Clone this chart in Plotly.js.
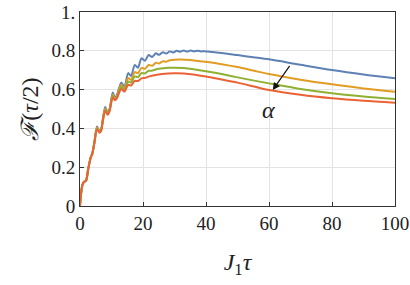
<!DOCTYPE html>
<html>
<head>
<meta charset="utf-8">
<script src="https://cdn.plot.ly/plotly-3.0.1.min.js"></script>
<style>html,body{margin:0;padding:0;background:#fff;}#chart{width:410px;height:285px;}</style>
</head>
<body>
<div id="chart"></div>
<script>
// J1*tau values and fidelity F(tau/2) (peaks / troughs of the ripples)
const blueX = [0,0.3,0.8,1.3,1.9,2.6,3.4,3.9,4.6,5.4,6.2,6.7,7.3,8.0,8.8,9.4,10.4,11.1,11.7,13.1,14.1,15.3,16.2,17.4,18.4,19.5,20.6,21.8,22.9,24.1,25.1,26.3,27.4,28.5,29.6,30.7,31.8,32.9,34.0,35.1,36.2,37.3,38.4,39.5,42,45,50,55,60,70,80,90,100];
const blueY = [0,0.06,0.11,0.125,0.13,0.19,0.25,0.27,0.33,0.41,0.385,0.395,0.45,0.51,0.48,0.50,0.585,0.557,0.572,0.636,0.615,0.685,0.67,0.727,0.713,0.761,0.749,0.778,0.768,0.787,0.779,0.793,0.786,0.797,0.791,0.80,0.795,0.801,0.796,0.801,0.797,0.80,0.797,0.798,0.794,0.789,0.778,0.767,0.756,0.728,0.701,0.678,0.658];

const orangeX = [0,0.3,0.8,1.3,1.9,2.6,3.4,3.9,4.6,5.4,6.2,6.7,7.3,8.0,8.8,9.4,10.4,11.1,11.7,13.1,14.1,15.3,16.2,17.4,18.4,19.5,20.6,21.8,22.9,24.1,25.1,26.3,27.4,28.5,30,32,35,38,40,45,50,55,60,70,80,90,100];
const orangeY = [0,0.06,0.11,0.125,0.13,0.19,0.25,0.27,0.33,0.405,0.383,0.393,0.45,0.503,0.476,0.497,0.575,0.551,0.565,0.625,0.605,0.66,0.65,0.69,0.684,0.712,0.707,0.727,0.723,0.738,0.735,0.746,0.744,0.751,0.754,0.755,0.752,0.746,0.743,0.731,0.716,0.698,0.68,0.651,0.627,0.606,0.589];

const greenX = [0,0.3,0.8,1.3,1.9,2.6,3.4,3.9,4.6,5.4,6.2,6.7,7.3,8.0,8.8,9.4,10.4,11.1,11.7,13.1,14.1,15.3,16.2,17.4,18.4,19.5,20.6,21.8,23,24.5,26,28,30,33,36,40,45,50,60,70,80,90,100];
const greenY = [0,0.06,0.11,0.125,0.13,0.19,0.25,0.27,0.33,0.40,0.38,0.39,0.447,0.497,0.473,0.494,0.568,0.548,0.56,0.615,0.598,0.642,0.636,0.668,0.664,0.685,0.683,0.697,0.698,0.706,0.709,0.712,0.713,0.711,0.705,0.695,0.68,0.663,0.632,0.603,0.581,0.565,0.552];

const redX = [0,0.3,0.8,1.3,1.9,2.6,3.4,3.9,4.6,5.4,6.2,6.7,7.3,8.0,8.8,9.4,10.4,11.1,11.7,13.1,14.1,15.3,16.2,17.4,18.4,19.5,20.6,22,24,26,28,30,33,36,40,45,50,60,70,80,90,100];
const redY = [0,0.06,0.11,0.125,0.13,0.19,0.25,0.27,0.33,0.395,0.378,0.388,0.443,0.49,0.47,0.49,0.56,0.545,0.555,0.603,0.59,0.625,0.621,0.645,0.644,0.658,0.66,0.668,0.675,0.68,0.683,0.684,0.683,0.678,0.667,0.652,0.636,0.598,0.573,0.555,0.542,0.532];

const xTicks = [0,20,40,60,80,100];
const yTicks = [0,0.2,0.4,0.6,0.8,1];
const yTickText = ['0','0.2','0.4','0.6','0.8','1.'];

const colors = ['#5E81B5','#E19C24','#8FB032','#EB6235'];
const series = [[blueX,blueY],[orangeX,orangeY],[greenX,greenY],[redX,redY]];

const traces = series.map((s,i)=>({
  x: s[0], y: s[1], type:'scatter', mode:'lines',
  line:{color:colors[i], width:2, shape:'spline', smoothing:0.8},
  hoverinfo:'skip', showlegend:false
}));

const serif = "'Liberation Serif', 'Times New Roman', serif";
const layout = {
  width:410, height:285,
  margin:{l:80, r:15, t:12, b:79},
  paper_bgcolor:'#fff', plot_bgcolor:'#fff',
  font:{family:serif, size:15, color:'#222'},
  xaxis:{
    range:[0,100], tickvals:xTicks, ticktext:xTicks.map(String),
    ticks:'inside', ticklen:4, tickcolor:'#333', tickwidth:1,
    showline:true, linecolor:'#333', linewidth:1, mirror:true,
    showgrid:true, gridcolor:'#e3e3e3', gridwidth:1, zeroline:false,
    tickfont:{family:serif, size:19, color:'#222'},
    title:{text:'<i>J</i><sub>1</sub><i>τ</i>', font:{family:serif, size:24, color:'#222'}, standoff:20}
  },
  yaxis:{
    range:[0,1], tickvals:yTicks, ticktext:yTickText,
    ticks:'inside', ticklen:4, tickcolor:'#333', tickwidth:1,
    showline:true, linecolor:'#333', linewidth:1, mirror:true,
    showgrid:true, gridcolor:'#e3e3e3', gridwidth:1, zeroline:false,
    tickfont:{family:serif, size:19, color:'#222'},
    title:{text:'<i>ℱ</i>(<i>τ</i>/2)', font:{family:serif, size:24, color:'#222'}, standoff:6}
  },
  annotations:[
    {x:61.2, y:0.598, ax:66.9, ay:0.730, xref:'x', yref:'y', axref:'x', ayref:'y',
     showarrow:true, arrowhead:2, arrowsize:1.2, arrowwidth:1.2, arrowcolor:'#111', text:''},
    {x:59.7, y:0.495, xref:'x', yref:'y', text:'<i>α</i>', showarrow:false,
     font:{family:serif, size:24, color:'#222'}}
  ]
};
Plotly.newPlot('chart', traces, layout, {staticPlot:true, displayModeBar:false});
</script>
</body>
</html>
